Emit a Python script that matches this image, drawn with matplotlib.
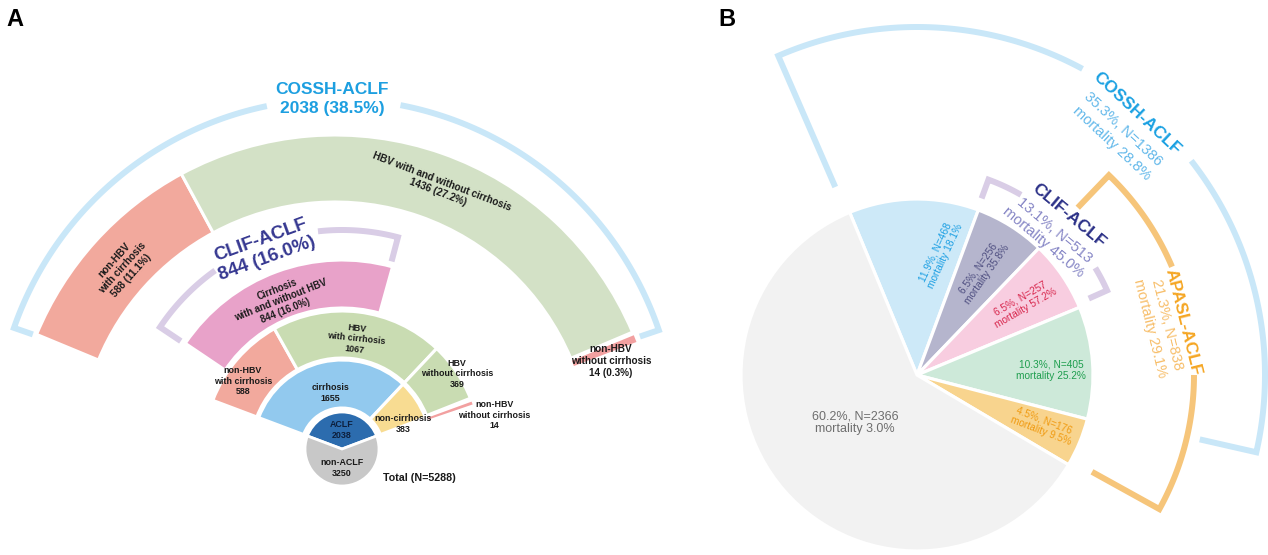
import numpy as np
import matplotlib.pyplot as plt
from matplotlib.patches import Wedge

plt.rcParams['font.family'] = ['Liberation Sans', 'DejaVu Sans']

W, H = 1268, 555

# ---- panel A data ----
total_n = 5288
aclf_labels = ['ACLF', 'non-ACLF']
aclf_n = [2038, 3250]
cirr_labels = ['cirrhosis', 'non-cirrhosis']
cirr_n = [1655, 383]
hbv_labels = ['non-HBV\nwith cirrhosis', 'HBV\nwith cirrhosis',
              'HBV\nwithout cirrhosis', 'non-HBV\nwithout cirrhosis']
hbv_n = [588, 1067, 369, 14]
clif_label = 'Cirrhosis\nwith and without HBV'
clif_n = 844
cossh_labels = ['non-HBV\nwith cirrhosis', 'HBV with and without cirrhosis',
                'non-HBV\nwithout cirrhosis']
cossh_n = [588, 1436, 14]

# ---- panel B data ----
pie_n = [468, 256, 257, 405, 176, 2366]
pie_mort = [18.1, 35.8, 57.2, 25.2, 9.5, 3.0]
group_names = ['COSSH-ACLF', 'CLIF-ACLF', 'APASL-ACLF']
group_slices = [[0, 1, 2, 3], [1, 2], [2, 3, 4]]
group_mort = [28.8, 45.0, 29.1]

fig = plt.figure(figsize=(12.68, 5.55), dpi=100)
ax = fig.add_axes([0, 0, 1, 1])


def xy(c, ang, r):
    a = np.radians(ang)
    return c[0] + r * np.cos(a), c[1] + r * np.sin(a)


def ring(c, r_in, r_out, start, deg_per, counts, colors, lw=2.2, minpx=3):
    # clockwise from start, one wedge per count
    a = start
    for n, col in zip(counts, colors):
        span = n * deg_per
        rmid = (r_in + r_out) / 2
        if span * np.pi / 180 * rmid < 7:
            # too thin for a white edge: draw it plain, just past a small gap
            gap = np.degrees(3.0 / rmid)
            w = max(span, np.degrees(minpx / rmid))
            ax.add_patch(Wedge(c, r_out, a - gap - w, a - gap, width=r_out - r_in,
                               facecolor=col, linewidth=0))
        else:
            ax.add_patch(Wedge(c, r_out, a - span, a, width=r_out - r_in,
                               facecolor=col, edgecolor='white', linewidth=lw))
        a -= span


def bracket(c, r, t1, t2, rin1, rin2, gap, color, lw=4.3):
    if gap is None:
        parts = [(t1, t2)]
    else:
        parts = [(t1, gap[0]), (gap[1], t2)]
    for i, (a, b) in enumerate(parts):
        th = np.linspace(a, b, 120)
        px = list(c[0] + r * np.cos(np.radians(th)))
        py = list(c[1] + r * np.sin(np.radians(th)))
        if i == 0:
            x0, y0 = xy(c, t1, rin1)
            px = [x0] + px
            py = [y0] + py
        if i == len(parts) - 1:
            x1, y1 = xy(c, t2, rin2)
            px = px + [x1]
            py = py + [y1]
        ax.plot(px, py, color=color, lw=lw, solid_joinstyle='miter',
                solid_capstyle='butt')


def pct(n, tot):
    return '%.1f%%' % (100.0 * n / tot)


# ================= panel A =================
cA = (342, H - 449)
cA5 = (335, H - 458)
cAb = (336, H - 440)
deg_in = 360.0 / total_n
start_in = 90 + aclf_n[0] * deg_in / 2

ax.pie(aclf_n, colors=['#2c6cae', '#c8c8c8'], startangle=start_in, counterclock=False,
       radius=37, center=cA, wedgeprops=dict(edgecolor='white', linewidth=2))
ring(cA, 41, 89, start_in, deg_in, cirr_n, ['#92c9ee', '#f8dc92'])
ring(cA, 91, 138, start_in, deg_in, hbv_n, ['#f2a99d', '#c9dcb2', '#c9dcb2', '#f2a0a0'],
     minpx=2.5)
ring(cA, 141, 189, 146, 71.5 / clif_n, [clif_n], ['#e8a2c9'])
ring(cA5, 256, 323, 157.5, 135.5 / aclf_n[0], cossh_n, ['#f2a99d', '#d3e1c6', '#f2a0a0'],
     minpx=6.5)

bracket(cAb, 341, 160.8, 18.8, 321, 321, (101.7, 79.1), '#c9e7f8')
bracket(cA, 219, 146.2, 75.2, 194, 194, (125.4, 96.3), '#d9cde6')

ax.text(332, H - 99, 'COSSH-ACLF\n%d (%s)' % (aclf_n[0], pct(aclf_n[0], total_n)),
        ha='center', va='center', fontsize=12.5, fontweight='bold', color='#1d9fe0',
        linespacing=1.25)
ax.text(264, H - 249, 'CLIF-ACLF\n%d (%s)' % (clif_n, pct(clif_n, total_n)),
        ha='center', va='center', fontsize=13.5, fontweight='bold', color='#363891',
        rotation=20, rotation_mode='anchor', linespacing=1.2)

kw = dict(ha='center', va='center', fontweight='bold', color='#1a1a1a',
          rotation_mode='anchor', multialignment='center')
# outer ring labels
ax.text(123, H - 268, '%s\n%d (%s)' % (cossh_labels[0], cossh_n[0], pct(cossh_n[0], total_n)),
        fontsize=7.2, rotation=48, **kw)
ax.text(440, H - 187, '%s\n%d (%s)' % (cossh_labels[1], cossh_n[1], pct(cossh_n[1], total_n)),
        fontsize=7.2, rotation=-21, **kw)
ax.text(611, H - 361, '%s\n%d (%s)' % (cossh_labels[2], cossh_n[2], pct(cossh_n[2], total_n)),
        fontsize=7.2, **kw)
ax.text(281, H - 300, '%s\n%d (%s)' % (clif_label, clif_n, pct(clif_n, total_n)),
        fontsize=6.9, rotation=21.6, **kw)
# HBV ring
hbv_pos = [(243, 381, 0), (356, 339, -6), (457, 374, 0), (494, 415, 0)]
for lab, n, (x, y, rot) in zip(hbv_labels, hbv_n, hbv_pos):
    ax.text(x, H - y, '%s\n%d' % (lab, n), fontsize=6.4, rotation=rot, **kw)
cirr_pos = [(330, 393), (403, 424)]
for lab, n, (x, y) in zip(cirr_labels, cirr_n, cirr_pos):
    ax.text(x, H - y, '%s\n%d' % (lab, n), fontsize=6.4, **kw)
ax.text(342, H - 430, '%s\n%d' % (aclf_labels[0], aclf_n[0]), fontsize=6.4,
        **dict(kw, color='#0d1f3c'))
ax.text(342, H - 468, '%s\n%d' % (aclf_labels[1], aclf_n[1]), fontsize=6.4, **kw)
ax.text(383, H - 478, 'Total (N=%d)' % total_n, ha='left', va='center',
        fontsize=7.7, fontweight='bold', color='#1a1a1a')

# ================= panel B =================
cB = (917, H - 375)
pie_tot = sum(pie_n)
pie_cols = ['#cde9f8', '#b5b5cd', '#f8cde0', '#cde9d9', '#f8d48e', '#f2f2f2']
txt_cols = ['#1c9fe3', '#4e4e80', '#d8284e', '#1e9e4e', '#f09a10', '#6e6e6e']
wedges, _ = ax.pie(pie_n, colors=pie_cols, startangle=112.5, counterclock=False,
                   radius=176, center=cB,
                   wedgeprops=dict(edgecolor='white', linewidth=2.3))

lab_pos = [(79.2, 123, 65), (57.6, 123, 55), (34.2, 128, 30), (2.1, 134, 0),
           (-21.8, 135, -21), (217.7, 78, 0)]
for i, (a, r, rot) in enumerate(lab_pos):
    x, y = xy(cB, a, r)
    ax.text(x, y, '%s, N=%d\nmortality %.1f%%' % (pct(pie_n[i], pie_tot), pie_n[i], pie_mort[i]),
            ha='center', va='center', rotation=rot, rotation_mode='anchor',
            fontsize=9 if i == 5 else 7.3, color=txt_cols[i], linespacing=1.15)

# group brackets, spanning the slices of each group
starts = [w.theta2 for w in wedges]
ends = [w.theta1 for w in wedges]


def span_of(idx):
    t1 = max(starts[j] for j in idx)
    t2 = min(ends[j] for j in idx)
    if t1 > 180:
        t1 -= 360
    if t2 > 180:
        t2 -= 360
    return t1, t2


br_style = [
    dict(r=348, rin=(205, 290), gap=(61.6, 38.0), pad=(1.0, 1.7), col='#c9e7f8'),
    dict(r=208, rin=(188, 188), gap=(60.0, 31.0), pad=(0.3, 1.4), col='#d9cde6'),
    dict(r=277, rin=(232, 200), gap=(23.0, 0.0), pad=(0.0, 1.7), col='#f6c57a'),
]
for idx, st in zip(group_slices, br_style):
    t1, t2 = span_of(idx)
    bracket(cB, st['r'], t1 + st['pad'][0], t2 + st['pad'][1], st['rin'][0], st['rin'][1],
            st['gap'], st['col'])

title_cols = ['#1ba1e2', '#2b3087', '#f5a623']
sub_cols = ['#62b8ea', '#8585c5', '#f7be6a']
title_pos = [(50.0, [342, 321, 303], -43), (46.5, [220, 199, 183], -40),
             (11.3, [271, 255, 238], -76)]
for g in range(3):
    n = sum(pie_n[j] for j in group_slices[g])
    a, rs, rot = title_pos[g]
    lines = [group_names[g], '%s, N=%d' % (pct(n, pie_tot), n), 'mortality %.1f%%' % group_mort[g]]
    for k, (line, r) in enumerate(zip(lines, rs)):
        x, y = xy(cB, a, r)
        ax.text(x, y, line, ha='center', va='center', rotation=rot, rotation_mode='anchor',
                fontsize=12.5 if k == 0 else 10.5, fontweight='bold' if k == 0 else 'normal',
                color=title_cols[g] if k == 0 else sub_cols[g])

ax.text(6, H - 19, 'A', fontsize=17, fontweight='bold', ha='left', va='center')
ax.text(718, H - 19, 'B', fontsize=17, fontweight='bold', ha='left', va='center')

ax.set_xlim(0, W)
ax.set_ylim(0, H)
ax.set_aspect('auto')
ax.axis('off')
fig.savefig('out.png', dpi=100)
